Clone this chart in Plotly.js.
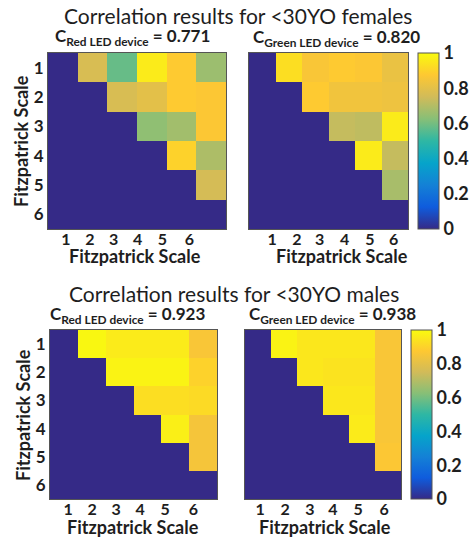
<!DOCTYPE html>
<html>
<head>
<meta charset="utf-8">
<script src="https://cdn.plot.ly/plotly-3.0.1.min.js"></script>
<style>
  html, body { margin: 0; padding: 0; background: #fff; }
  #chart { width: 474px; height: 540px; }
</style>
</head>
<body>
<div id="chart"></div>
<script>
// Fitzpatrick skin types on both axes
const scale = [1, 2, 3, 4, 5, 6];
const scaleLabels = ['1', '2', '3', '4', '5', '6'];

// Pairwise correlation matrices (upper triangle only; diagonal and below set to 0)
const redFemales = [
  [0, 0.77, 0.58, 0.96, 0.88, 0.66],
  [0, 0,    0.77, 0.80, 0.88, 0.87],
  [0, 0,    0,    0.64, 0.67, 0.87],
  [0, 0,    0,    0,    0.90, 0.69],
  [0, 0,    0,    0,    0,    0.76],
  [0, 0,    0,    0,    0,    0   ]
];
const greenFemales = [
  [0, 0.93, 0.86, 0.88, 0.87, 0.82],
  [0, 0,    0.88, 0.84, 0.84, 0.83],
  [0, 0,    0,    0.73, 0.72, 0.96],
  [0, 0,    0,    0,    0.96, 0.73],
  [0, 0,    0,    0,    0,    0.68],
  [0, 0,    0,    0,    0,    0   ]
];
const redMales = [
  [0, 0.99, 0.96, 0.96, 0.96, 0.86],
  [0, 0,    0.98, 0.98, 0.98, 0.90],
  [0, 0,    0,    0.93, 0.93, 0.92],
  [0, 0,    0,    0,    0.97, 0.85],
  [0, 0,    0,    0,    0,    0.85],
  [0, 0,    0,    0,    0,    0   ]
];
const greenMales = [
  [0, 0.98, 0.95, 0.95, 0.95, 0.86],
  [0, 0,    0.95, 0.94, 0.94, 0.86],
  [0, 0,    0,    0.95, 0.95, 0.86],
  [0, 0,    0,    0,    0.96, 0.86],
  [0, 0,    0,    0,    0,    0.87],
  [0, 0,    0,    0,    0,    0   ]
];

// Overall correlation coefficients per device
const coefficients = { redF: '0.771', greenF: '0.820', redM: '0.923', greenM: '0.938' };

// Where each panel's x tick labels sit along the cell axis
const xTickPosTL = [1.10, 1.91, 2.71, 3.52, 4.36, 5.27];
const xTickPosTR = [1.37, 2.31, 3.17, 4.11, 5.06, 5.96];
const xTickPosBL = [1.15, 2.01, 2.88, 3.74, 4.64, 5.65];
const xTickPosBR = [1.08, 2.04, 3.00, 3.88, 4.85, 5.85];

// MATLAB parula colormap
const parula = [
  [0.000, '#352a87'],
  [0.125, '#0f5cdd'],
  [0.250, '#1481d6'],
  [0.375, '#06a4ca'],
  [0.500, '#2eb7a4'],
  [0.625, '#87bf77'],
  [0.750, '#d1bb59'],
  [0.875, '#fec832'],
  [1.000, '#f9fb0e']
];

const W = 474, H = 540;
const px = v => v / W;          // pixel -> paper x
const py = v => 1 - v / H;      // pixel -> paper y

const FONT = 'Lato, "Open Sans", sans-serif';
const ink = '#1e1e1e';

function cbar(leftPx, topPx, bottomPx) {
  return {
    x: px(leftPx), xanchor: 'left', xref: 'paper',
    y: py(topPx), yanchor: 'top', yref: 'paper',
    len: (bottomPx - topPx) / H, lenmode: 'fraction',
    thickness: 21, thicknessmode: 'pixels',
    outlinewidth: 1, outlinecolor: '#555',
    tickvals: [0, 0.2, 0.4, 0.6, 0.8, 1],
    ticktext: ['0', '0.2', '0.4', '0.6', '0.8', '1'],
    ticks: '', ticklabelpad: 3,
    tickfont: { family: FONT, size: 18, color: ink, weight: 'bold' },
    xpad: 0, ypad: 0
  };
}

function heat(z, xa, ya, showBar, bar) {
  return {
    type: 'heatmap', x: scale, y: scale, z: z,
    xaxis: xa, yaxis: ya,
    zmin: 0, zmax: 1, colorscale: parula,
    showscale: showBar, colorbar: bar,
    hoverinfo: 'x+y+z'
  };
}

const data = [
  heat(redFemales,   'x',  'y',  false),
  heat(greenFemales, 'x2', 'y2', true,  cbar(418, 53, 229)),
  heat(redMales,     'x3', 'y3', false),
  heat(greenMales,   'x4', 'y4', true,  cbar(411, 330, 499))
];

function xAxis(l, r, anchor, tickPos) {
  return {
    domain: [px(l), px(r)], anchor: anchor,
    range: [0.5, 6.5], showgrid: false, zeroline: false,
    showline: true, mirror: true, linecolor: '#555', linewidth: 1,
    tickmode: 'array', tickvals: tickPos, ticktext: scaleLabels, ticks: '',
    ticklabelstandoff: -4,
    tickfont: { family: FONT, size: 16, color: ink, weight: 'bold' },
    fixedrange: true
  };
}
function yAxis(t, b, anchor, showLabels) {
  return {
    domain: [py(b), py(t)], anchor: anchor,
    range: [6.5, 0.5], showgrid: false, zeroline: false,
    showline: true, mirror: true, linecolor: '#555', linewidth: 1,
    tickmode: 'array', tickvals: scale, ticktext: scaleLabels, ticks: '',
    showticklabels: showLabels,
    tickfont: { family: FONT, size: 17, color: ink, weight: 'bold' },
    fixedrange: true
  };
}

function note(text, xPx, yPx, size, weight, angle) {
  return {
    text: text, xref: 'paper', yref: 'paper',
    x: px(xPx), y: py(yPx), xanchor: 'center', yanchor: 'middle',
    showarrow: false, textangle: angle || 0,
    font: { family: FONT, size: size, color: ink, weight: weight }
  };
}

const annotations = [
  note('Correlation results for &lt;30YO females', 238, 15, 21, 'normal'),
  note('Correlation results for &lt;30YO males', 234, 293, 21, 'normal'),
  note('C<sub>Red LED device</sub> = ' + coefficients.redF,   132, 37, 17, 'bold'),
  note('C<sub>Green LED device</sub> = ' + coefficients.greenF, 336, 38, 17, 'bold'),
  note('C<sub>Red LED device</sub> = ' + coefficients.redM,   127, 315, 17, 'bold'),
  note('C<sub>Green LED device</sub> = ' + coefficients.greenM, 332, 315, 17, 'bold'),
  note('Fitzpatrick Scale', 135, 256, 18, 'bold'),
  note('Fitzpatrick Scale', 342, 256, 18, 'bold'),
  note('Fitzpatrick Scale', 133, 527, 18, 'bold'),
  note('Fitzpatrick Scale', 325, 527, 18, 'bold'),
  note('Fitzpatrick Scale', 21, 141, 18, 'bold', -90),
  note('Fitzpatrick Scale', 23, 415, 18, 'bold', -90)
];

const layout = {
  width: W, height: H,
  margin: { l: 0, r: 0, t: 0, b: 0 },
  paper_bgcolor: '#ffffff', plot_bgcolor: '#ffffff',
  showlegend: false,
  xaxis:  xAxis(48, 226, 'y',  xTickPosTL),
  yaxis:  yAxis(53, 229, 'x',  true),
  xaxis2: xAxis(249, 408, 'y2', xTickPosTR),
  yaxis2: yAxis(53, 229, 'x2', false),
  xaxis3: xAxis(50, 217, 'y3', xTickPosBL),
  yaxis3: yAxis(330, 499, 'x3', true),
  xaxis4: xAxis(245, 401, 'y4', xTickPosBR),
  yaxis4: yAxis(330, 499, 'x4', false),
  annotations: annotations
};

Plotly.newPlot('chart', data, layout, { displayModeBar: false, staticPlot: true });
</script>
</body>
</html>
